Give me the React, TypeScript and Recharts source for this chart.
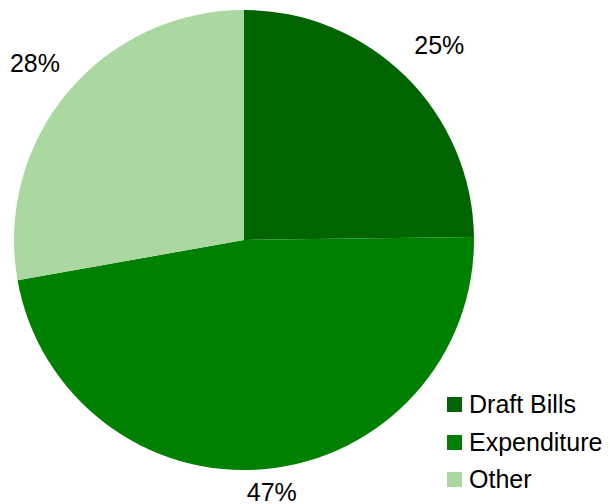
import React from 'react';
import { PieChart, Pie, Cell, Legend } from 'recharts';

const categories = ['Draft Bills', 'Expenditure', 'Other'];
const values = [24.8, 47.4, 27.8];
const colors = ['#006400', '#008000', '#abd7a0'];

const data = categories.map((name, i) => ({ name, value: values[i] }));

const RAD = Math.PI / 180;
const CX = 244;
const CY = 240;
const R = 230;
const FONT = "'Liberation Sans', Arial, sans-serif";

const renderLabel = (props: any) => {
  const { midAngle, percent } = props;
  const dx = Math.cos(-midAngle * RAD);
  const dy = Math.sin(-midAngle * RAD);
  const d = 20 + 34 * Math.abs(dx);
  const x = CX + dx * (R + d) + 4 * Math.abs(dy);
  const y = CY + dy * (R + d);
  return (
    <text
      x={x}
      y={y}
      textAnchor="middle"
      dominantBaseline="central"
      fill="#000"
      fontSize={25}
      fontFamily={FONT}
    >
      {`${Math.round(percent * 100)}%`}
    </text>
  );
};

const LegendContent = () => (
  <div style={{ fontFamily: FONT, fontSize: 25, color: '#000' }}>
    {categories.map((c, i) => (
      <div key={c} style={{ display: 'flex', alignItems: 'center', height: 37.5 }}>
        <span style={{ display: 'inline-block', width: 15, height: 15, background: colors[i], marginRight: 7 }} />
        <span>{c}</span>
      </div>
    ))}
  </div>
);

export default function App() {
  return (
    <div style={{ position: 'absolute', left: 0, top: 0, width: 610, height: 504, background: '#fff' }}>
      <PieChart width={610} height={504} margin={{ top: 0, right: 0, bottom: 0, left: 0 }}>
        <Pie
          data={data}
          dataKey="value"
          nameKey="name"
          cx={CX}
          cy={CY}
          outerRadius={R}
          startAngle={90}
          endAngle={-270}
          stroke="none"
          label={renderLabel}
          labelLine={false}
          isAnimationActive={false}
        >
          {data.map((d, i) => (
            <Cell key={d.name} fill={colors[i]} />
          ))}
        </Pie>
        <Legend
          content={<LegendContent />}
          wrapperStyle={{ position: 'absolute', left: 447, top: 386, width: 163 }}
        />
      </PieChart>
    </div>
  );
}
